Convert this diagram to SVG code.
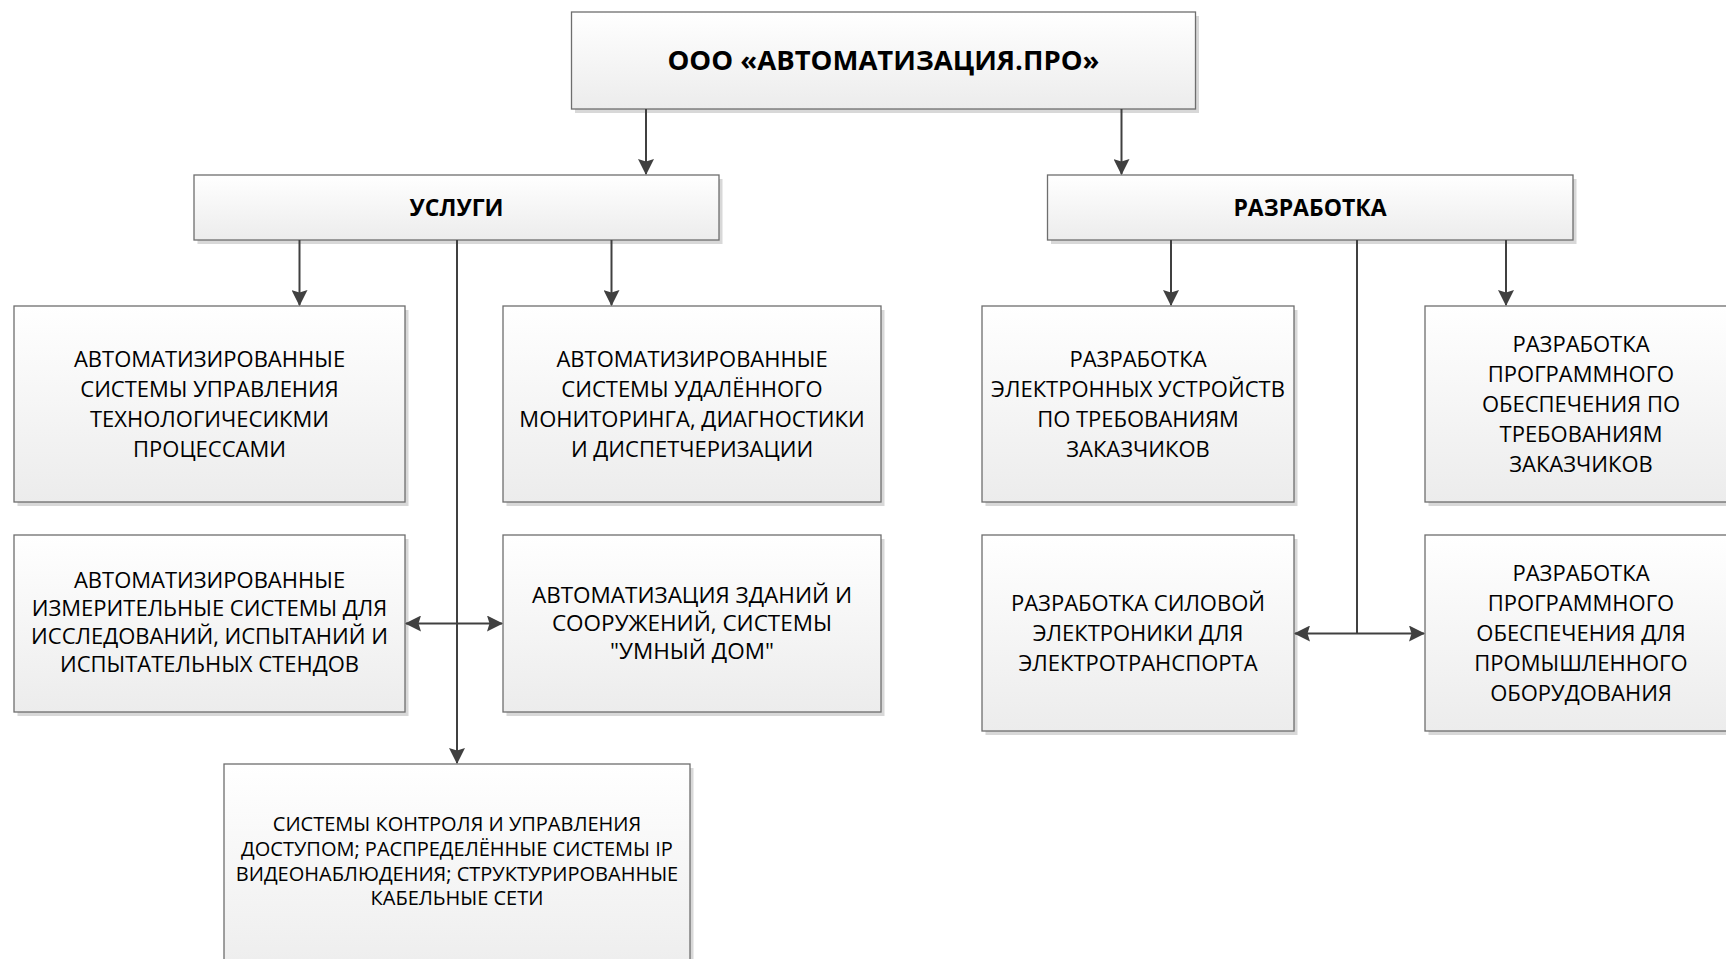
<svg xmlns="http://www.w3.org/2000/svg" width="1726" height="959" viewBox="0 0 1726 959">
<defs>
<linearGradient id="g" x1="0" y1="0" x2="0" y2="1">
<stop offset="0" stop-color="#ffffff"/>
<stop offset="1" stop-color="#ececec"/>
</linearGradient>
<marker id="ah" viewBox="0 0 16 16" refX="15" refY="8" markerWidth="16" markerHeight="16" markerUnits="userSpaceOnUse" orient="auto-start-reverse">
<path d="M0,0 L16,8 L0,16 L2.5,8 Z" fill="#404040"/>
</marker>
<style>
.box{fill:url(#g);stroke:#6e6e6e;stroke-width:1.3}
.sh{fill:#d8d8d8}
.t{font-family:"Open Sans","Noto Sans",sans-serif;font-size:22px;fill:#000;text-anchor:middle}
.m{font-size:22.5px}
.xs{font-size:20px}
.b{font-weight:bold;font-size:23px}
.bt{font-weight:bold;font-size:27.5px}
.c{stroke:#404040;stroke-width:2;fill:none}
</style>
</defs>
<rect width="1726" height="959" fill="#fff"/>
<g id="node-top">
<rect class="sh" x="575" y="16" width="624" height="97"/>
<rect class="box" x="571.5" y="12" width="624" height="97"/>
<text class="t bt" x="883.5" y="70">ООО «АВТОМАТИЗАЦИЯ.ПРО»</text>
</g>
<g id="node-uslugi">
<rect class="sh" x="197.5" y="179" width="525" height="65"/>
<rect class="box" x="194" y="175" width="525" height="65"/>
<text class="t b" x="456.5" y="215.5">УСЛУГИ</text>
</g>
<g id="node-razrabotka">
<rect class="sh" x="1051" y="179" width="525.5" height="65"/>
<rect class="box" x="1047.5" y="175" width="525.5" height="65"/>
<text class="t b" x="1310" y="215.5">РАЗРАБОТКА</text>
</g>
<g id="node-asutp">
<rect class="sh" x="17.5" y="310" width="391" height="196"/>
<rect class="box" x="14" y="306" width="391" height="196"/>
<text class="t" x="209.5" y="366.5">АВТОМАТИЗИРОВАННЫЕ</text>
<text class="t" x="209.5" y="397">СИСТЕМЫ УПРАВЛЕНИЯ</text>
<text class="t" x="209.5" y="427">ТЕХНОЛОГИЧЕСИКМИ</text>
<text class="t" x="209.5" y="457">ПРОЦЕССАМИ</text>
</g>
<g id="node-remote">
<rect class="sh" x="506.5" y="310" width="378" height="196"/>
<rect class="box" x="503" y="306" width="378" height="196"/>
<text class="t" x="692" y="366.5">АВТОМАТИЗИРОВАННЫЕ</text>
<text class="t" x="692" y="397">СИСТЕМЫ УДАЛЁННОГО</text>
<text class="t" x="692" y="427">МОНИТОРИНГА, ДИАГНОСТИКИ</text>
<text class="t" x="692" y="457">И ДИСПЕТЧЕРИЗАЦИИ</text>
</g>
<g id="node-measure">
<rect class="sh" x="17.5" y="539" width="391" height="177"/>
<rect class="box" x="14" y="535" width="391" height="177"/>
<text class="t" x="209.5" y="587.5">АВТОМАТИЗИРОВАННЫЕ</text>
<text class="t" x="209.5" y="615.5">ИЗМЕРИТЕЛЬНЫЕ СИСТЕМЫ ДЛЯ</text>
<text class="t" x="209.5" y="643.5">ИССЛЕДОВАНИЙ, ИСПЫТАНИЙ И</text>
<text class="t" x="209.5" y="671.5">ИСПЫТАТЕЛЬНЫХ СТЕНДОВ</text>
</g>
<g id="node-building">
<rect class="sh" x="506.5" y="539" width="378" height="177"/>
<rect class="box" x="503" y="535" width="378" height="177"/>
<text class="t m" x="692" y="602.5">АВТОМАТИЗАЦИЯ ЗДАНИЙ И</text>
<text class="t m" x="692" y="630.5">СООРУЖЕНИЙ, СИСТЕМЫ</text>
<text class="t m" x="692" y="658.5">"УМНЫЙ ДОМ"</text>
</g>
<g id="node-access">
<rect class="sh" x="227.5" y="768" width="466" height="220"/>
<rect class="box" x="224" y="764" width="466" height="220"/>
<text class="t xs" x="457" y="830.5">СИСТЕМЫ КОНТРОЛЯ И УПРАВЛЕНИЯ</text>
<text class="t xs" x="457" y="855.5">ДОСТУПОМ; РАСПРЕДЕЛЁННЫЕ СИСТЕМЫ IP</text>
<text class="t xs" x="457" y="880.5">ВИДЕОНАБЛЮДЕНИЯ; СТРУКТУРИРОВАННЫЕ</text>
<text class="t xs" x="457" y="905">КАБЕЛЬНЫЕ СЕТИ</text>
</g>
<g id="node-electronics">
<rect class="sh" x="985.5" y="310" width="312" height="196"/>
<rect class="box" x="982" y="306" width="312" height="196"/>
<text class="t" x="1138" y="366.5">РАЗРАБОТКА</text>
<text class="t" x="1138" y="396.5">ЭЛЕКТРОННЫХ УСТРОЙСТВ</text>
<text class="t" x="1138" y="426.5">ПО ТРЕБОВАНИЯМ</text>
<text class="t" x="1138" y="456.5">ЗАКАЗЧИКОВ</text>
</g>
<g id="node-software-custom">
<rect class="sh" x="1428.5" y="310" width="312" height="196"/>
<rect class="box" x="1425" y="306" width="312" height="196"/>
<text class="t" x="1581" y="351.5">РАЗРАБОТКА</text>
<text class="t" x="1581" y="381.5">ПРОГРАММНОГО</text>
<text class="t" x="1581" y="411.5">ОБЕСПЕЧЕНИЯ ПО</text>
<text class="t" x="1581" y="441.5">ТРЕБОВАНИЯМ</text>
<text class="t" x="1581" y="471.5">ЗАКАЗЧИКОВ</text>
</g>
<g id="node-power">
<rect class="sh" x="985.5" y="539" width="312" height="196"/>
<rect class="box" x="982" y="535" width="312" height="196"/>
<text class="t" x="1138" y="610.5">РАЗРАБОТКА СИЛОВОЙ</text>
<text class="t" x="1138" y="640.5">ЭЛЕКТРОНИКИ ДЛЯ</text>
<text class="t" x="1138" y="670.5">ЭЛЕКТРОТРАНСПОРТА</text>
</g>
<g id="node-software-industrial">
<rect class="sh" x="1428.5" y="539" width="312" height="196"/>
<rect class="box" x="1425" y="535" width="312" height="196"/>
<text class="t" x="1581" y="580.5">РАЗРАБОТКА</text>
<text class="t" x="1581" y="610.5">ПРОГРАММНОГО</text>
<text class="t" x="1581" y="640.5">ОБЕСПЕЧЕНИЯ ДЛЯ</text>
<text class="t" x="1581" y="670.5">ПРОМЫШЛЕННОГО</text>
<text class="t" x="1581" y="700.5">ОБОРУДОВАНИЯ</text>
</g>
<g id="connectors">
<path class="c" d="M646,109 V174" marker-end="url(#ah)"/>
<path class="c" d="M1121.5,109 V174" marker-end="url(#ah)"/>
<path class="c" d="M299.5,240 V305" marker-end="url(#ah)"/>
<path class="c" d="M611.5,240 V305" marker-end="url(#ah)"/>
<path class="c" d="M457,240 V763" marker-end="url(#ah)"/>
<path class="c" d="M406,623.5 H502" marker-start="url(#ah)" marker-end="url(#ah)"/>
<path class="c" d="M1171,240 V305" marker-end="url(#ah)"/>
<path class="c" d="M1506,240 V305" marker-end="url(#ah)"/>
<path class="c" d="M1357,240 V633.5"/>
<path class="c" d="M1295,633.5 H1424" marker-start="url(#ah)" marker-end="url(#ah)"/>
</g>
</svg>
